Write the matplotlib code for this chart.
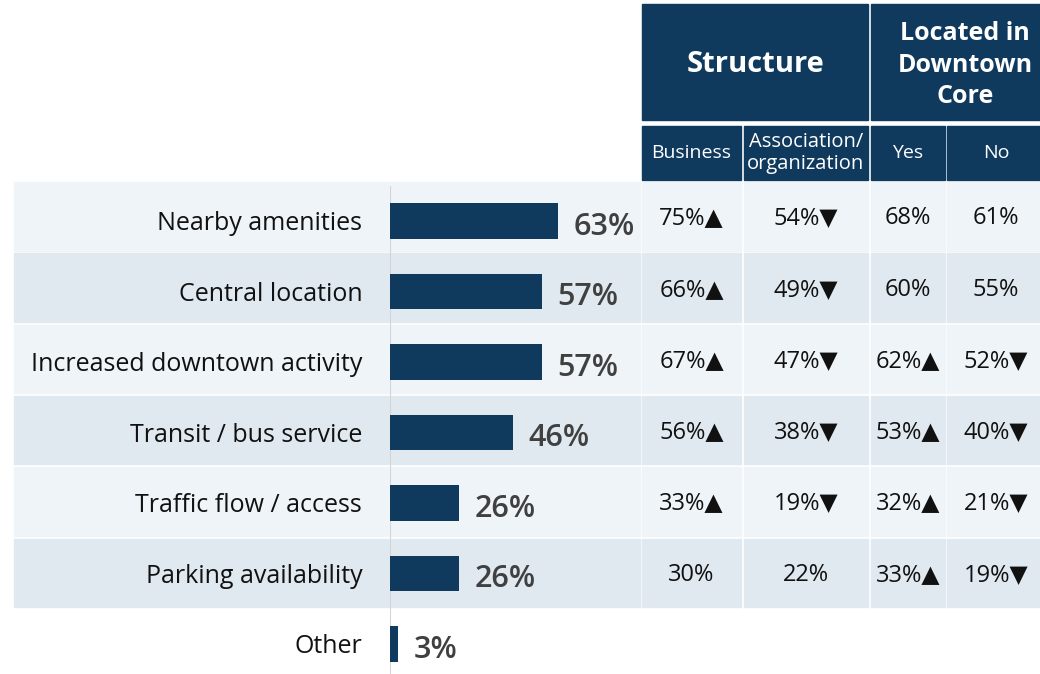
import matplotlib
matplotlib.use("Agg")
import matplotlib.pyplot as plt
from matplotlib.patches import Rectangle

# survey results: overall share plus breakdown by structure / downtown core
categories = ["Nearby amenities", "Central location", "Increased downtown activity",
              "Transit / bus service", "Traffic flow / access", "Parking availability", "Other"]
overall = [63, 57, 57, 46, 26, 26, 3]

business = [75, 66, 67, 56, 33, 30]
business_sig = ["▲", "▲", "▲", "▲", "▲", ""]
association = [54, 49, 47, 38, 19, 22]
association_sig = ["▼", "▼", "▼", "▼", "▼", ""]
downtown_yes = [68, 60, 62, 53, 32, 33]
downtown_yes_sig = ["", "", "▲", "▲", "▲", "▲"]
downtown_no = [61, 55, 52, 40, 21, 19]
downtown_no_sig = ["", "", "▼", "▼", "▼", "▼"]

group_headers = ["Structure", "Located in\nDowntown\nCore"]
sub_headers = ["Business", "Association/\norganization", "Yes", "No"]

W, H = 1040, 674
NAVY = "#0f3a5e"
BAND = ["#eef4f8", "#dfe9ef"]
FONT = ["Open Sans", "DejaVu Sans"]
plt.rcParams["font.family"] = FONT

fig = plt.figure(figsize=(W / 100, H / 100), dpi=100)

# background layer in pixel coordinates: bands, header boxes
bg = fig.add_axes([0, 0, 1, 1])
bg.set_xlim(0, W)
bg.set_ylim(H, 0)
bg.axis("off")

row_top, row_pitch, row_h = 182, 71.3, 68.5
cols = [(642, 741), (744, 868), (871, 945), (947, 1045)]

# header boxes
bg.add_patch(Rectangle((642, 4), 868 - 642, 116, color=NAVY))
bg.add_patch(Rectangle((871, 4), 1045 - 871, 116, color=NAVY))
bg.text(755, 64, group_headers[0], color="white", fontsize=21, fontweight="bold",
        ha="center", va="center")
bg.text(965, 65, group_headers[1], color="white", fontsize=18, fontweight="bold",
        ha="center", va="center", linespacing=1.32)
for (x0, x1), lab in zip(cols, sub_headers):
    bg.add_patch(Rectangle((x0, 126), x1 - x0, 54, color=NAVY))
    bg.text((x0 + x1) / 2, 153, lab, color="white", fontsize=14 if "/" not in lab else 14.5,
            ha="center", va="center", linespacing=1.1)

table = [(business, business_sig), (association, association_sig),
         (downtown_yes, downtown_yes_sig), (downtown_no, downtown_no_sig)]

for i in range(len(business)):
    y0 = row_top + row_pitch * i
    c = BAND[i % 2]
    bg.add_patch(Rectangle((14, y0), 640 - 14, row_h, color=c))
    for (x0, x1), (vals, sig) in zip(cols, table):
        bg.add_patch(Rectangle((x0, y0), x1 - x0, row_h, color=c))
        bg.text((x0 + x1) / 2, y0 + row_h / 2 + 2, f"{vals[i]}%{sig[i]}",
                fontsize=17, color="#111111", ha="center", va="center")

# bar layer: 0-100% spans 267 px starting at x=390
bar_top, bar_pitch = 221, 70.5
y_lo = bar_top - bar_pitch / 2
y_hi = bar_top + bar_pitch * (len(categories) - 0.5)
ax = fig.add_axes([390 / W, (H - y_hi) / H, 267 / W, (y_hi - y_lo) / H])
ax.set_xlim(0, 100)
ax.set_ylim(len(categories) - 0.5, -0.5)
ax.axis("off")
ax.patch.set_alpha(0)

ypos = list(range(len(categories)))
ax.barh(ypos, overall, height=0.5, color=NAVY)
ax.axvline(0, color="#d4d4d4", lw=1.5, zorder=0)

for y, v, lab in zip(ypos, overall, categories):
    ax.annotate(f"{v}%", (v, y), xytext=(11, -4), textcoords="offset points",
                ha="left", va="center", fontsize=22, fontweight="semibold", color="#404040",
                annotation_clip=False)
    ax.annotate(lab, (0, y), xytext=(-20, -2), textcoords="offset points",
                ha="right", va="center", fontsize=18, color="#111111",
                annotation_clip=False)

fig.savefig("out.png", dpi=100)
